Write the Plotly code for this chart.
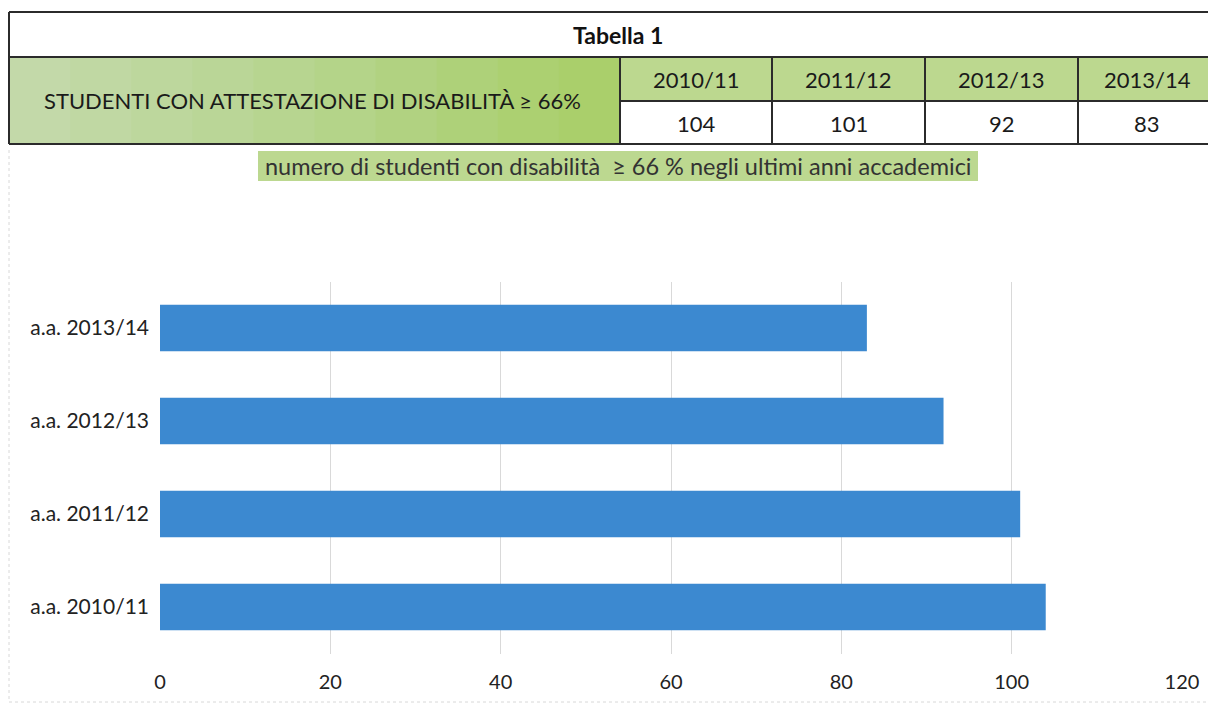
import plotly.graph_objects as go

# ---- data ----
table_title = "Tabella 1"
row_label = "STUDENTI CON ATTESTAZIONE DI DISABILITÀ ≥ 66%"
years = ["2010/11", "2011/12", "2012/13", "2013/14"]
students = [104, 101, 92, 83]
caption = "numero di studenti con disabilità  ≥ 66 % negli ultimi anni accademici"
bar_labels = ["a.a. 2010/11", "a.a. 2011/12", "a.a. 2012/13", "a.a. 2013/14"]
x_ticks = [0, 20, 40, 60, 80, 100, 120]

# the page body keeps its default 8px margin, so the figure fills the rest of the window
OFF = 8
W, H = 1216 - 2 * OFF, 712 - 2 * OFF
FONT = "Lato, 'Open Sans', sans-serif"


def px(x):
    return (x - OFF) / W


def py(y):
    return 1 - (y - OFF) / H


fig = go.Figure()
fig.add_trace(go.Bar(
    y=bar_labels, x=students, orientation="h",
    marker=dict(color="#3c89d0", line=dict(width=0)),
    width=0.5, hoverinfo="x+y",
))

shapes = []
annotations = []

# faint page border around chart area
shapes.append(dict(type="line", xref="paper", yref="paper",
                   x0=px(9), x1=px(9), y0=py(150), y1=py(702),
                   line=dict(color="#d8d8d8", width=1, dash="dot")))
shapes.append(dict(type="line", xref="paper", yref="paper",
                   x0=px(9), x1=px(1216), y0=py(702), y1=py(702),
                   line=dict(color="#d8d8d8", width=1, dash="dot")))

# left label cell gradient (several bands)
grad = ["#c3d9a9", "#c0d8a3", "#bdd79d", "#bad697", "#b7d590", "#b4d489",
        "#b1d281", "#aed179", "#acd071", "#aacf6b"]
x0, x1 = 9, 620
n = len(grad)
for i, c in enumerate(grad):
    shapes.append(dict(type="rect", xref="paper", yref="paper",
                       x0=px(x0 + (x1 - x0) * i / n), x1=px(x0 + (x1 - x0) * (i + 1) / n + 1),
                       y0=py(144), y1=py(57), fillcolor=c, line=dict(width=0), layer="below"))
# year header cells
shapes.append(dict(type="rect", xref="paper", yref="paper",
                   x0=px(620), x1=px(1216), y0=py(101), y1=py(57),
                   fillcolor="#bcd88f", line=dict(width=0), layer="below"))
# caption highlight
shapes.append(dict(type="rect", xref="paper", yref="paper",
                   x0=px(258), x1=px(978), y0=py(181), y1=py(151),
                   fillcolor="#bcd890", line=dict(width=0), layer="below"))

LC = "#2b2b2b"


def hline(y, xa, xb):
    shapes.append(dict(type="line", xref="paper", yref="paper", x0=px(xa), x1=px(xb),
                       y0=py(y), y1=py(y), line=dict(color=LC, width=2)))


def vline(x, ya, yb):
    shapes.append(dict(type="line", xref="paper", yref="paper", x0=px(x), x1=px(x),
                       y0=py(ya), y1=py(yb), line=dict(color=LC, width=2)))


hline(12, 9, 1216)
hline(57, 9, 1216)
hline(101, 620, 1216)
hline(144, 9, 1216)
vline(9, 12, 144)
col_edges = [620, 772, 925, 1078, 1216]
for xe in col_edges[:-1]:
    vline(xe, 57, 144)


def note(text, x, y, size, color="#1a1a1a"):
    annotations.append(dict(text=text, x=px(x), y=py(y), xref="paper", yref="paper",
                            xanchor="center", yanchor="middle", showarrow=False,
                            font=dict(size=size, color=color, family=FONT)))


note("<b>" + table_title + "</b>", 618, 35, 23, "#111")
note(row_label, 312, 101, 22)
for i, (yr, v) in enumerate(zip(years, students)):
    cx = (col_edges[i] + col_edges[i + 1]) / 2
    note(yr, cx, 79, 22)
    note(str(v), cx, 123, 22)
note(caption, 618, 166, 23.5, "#333")

fig.update_layout(
    width=W, height=H,
    margin=dict(l=0, r=0, t=0, b=0, autoexpand=False),
    paper_bgcolor="white", plot_bgcolor="white",
    showlegend=False,
    shapes=shapes, annotations=annotations,
    bargap=0.5,
    xaxis=dict(domain=[px(160), px(1182)], range=[0, 120], tickvals=x_ticks, automargin=False,
               showgrid=True, gridcolor="#d9d9d9", gridwidth=1, zeroline=False,
               showline=False, ticks="", ticklen=0, ticklabelstandoff=14,
               tickfont=dict(size=20, color="#222", family=FONT)),
    yaxis=dict(domain=[py(653.5), py(281.5)], categoryorder="array", categoryarray=bar_labels,
               automargin=False,
               showgrid=False, zeroline=False, showline=False, ticks="",
               ticklabelstandoff=10, tickfont=dict(size=21, color="#222", family=FONT)),
)

fig.write_html("out.html", config={"displayModeBar": False})
